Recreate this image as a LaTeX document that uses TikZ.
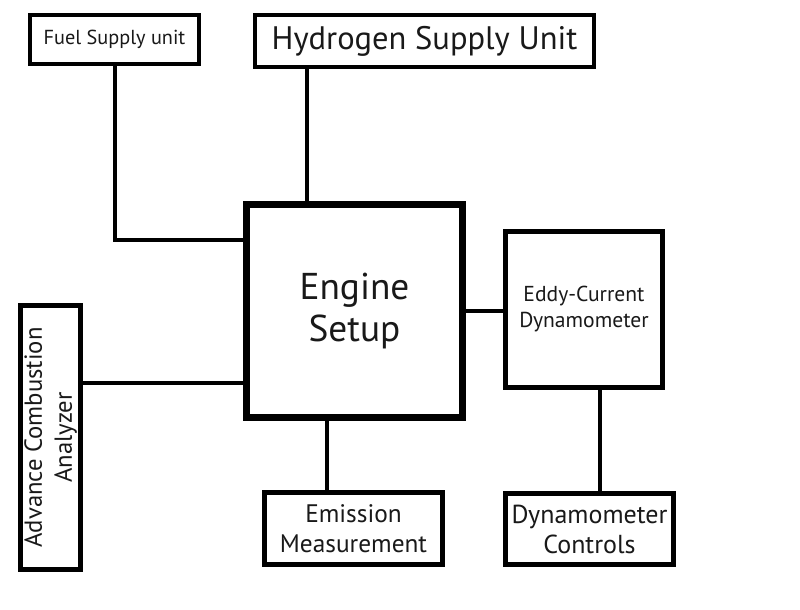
\documentclass[tikz,border=0pt]{standalone}
\usepackage{fontspec}
\setmainfont{PT Sans}
\begin{document}
\begin{tikzpicture}[x=0.75pt,y=-0.75pt,
  box/.style={draw=black,fill=white,inner sep=0pt,align=center,text=black!90},
  wire/.style={draw=black,line width=3pt}]
\useasboundingbox (0,0) rectangle (800,610);
\fill[white] (0,0) rectangle (800,610);
\node[box,line width=3pt,minimum width=169*0.75pt,minimum height=49*0.75pt,font=\fontsize{15.2}{18}\selectfont] (fuel) at (114.5,39.5) {Fuel Supply unit};
\node[box,line width=3pt,minimum width=339*0.75pt,minimum height=52*0.75pt,font=\fontsize{24.4}{28}\selectfont] (hyd) at (424.5,41) {Hydrogen Supply Unit};
\node[box,line width=5.25pt,minimum width=216*0.75pt,minimum height=213*0.75pt,font=\fontsize{28}{32}\selectfont] (engine) at (354.5,311) {Engine\\Setup};
\node[box,line width=3.75pt,minimum width=157*0.75pt,minimum height=156*0.75pt,font=\fontsize{16.2}{19.5}\selectfont] (eddy) at (584,309.5) {Eddy-Current\\Dynamometer};
\node[box,line width=3.75pt,rotate=90,minimum width=264*0.75pt,minimum height=60*0.75pt,font=\fontsize{18.5}{22.5}\selectfont] (analyzer) at (50.5,437.5) {Advance Combustion\\Analyzer};
\node[box,line width=3.75pt,minimum width=178*0.75pt,minimum height=72*0.75pt,font=\fontsize{19}{22.5}\selectfont] (emission) at (353.5,528.5) {Emission\\Measurement};
\node[box,line width=3.75pt,minimum width=168*0.75pt,minimum height=71*0.75pt,font=\fontsize{19.5}{22.5}\selectfont] (controls) at (589.5,529) {Dynamometer\\Controls};
\draw[wire] (fuel.south -| 115,0) |- (engine.west |- 0,240);
\draw[wire] (hyd.south -| 307,0) -- (engine.north -| 307,0);
\draw[wire] (analyzer.south |- 0,383) -- (engine.west |- 0,383);
\draw[wire] (engine.east |- 0,311) -- (eddy.west |- 0,311);
\draw[wire] (engine.south -| 327,0) -- (emission.north -| 327,0);
\draw[wire] (eddy.south -| 600,0) -- (controls.north -| 600,0);
\end{tikzpicture}
\end{document}
